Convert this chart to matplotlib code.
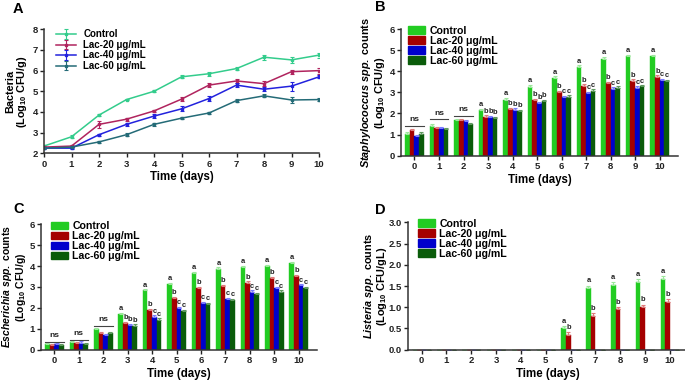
import numpy as np
import matplotlib
matplotlib.use("Agg")
import matplotlib.pyplot as plt
from matplotlib.patches import Patch
from matplotlib.ticker import FormatStrFormatter

plt.rcParams["font.family"] = ["Liberation Sans", "DejaVu Sans"]
plt.rcParams["font.weight"] = "bold"
plt.rcParams["mathtext.fontset"] = "custom"
plt.rcParams["mathtext.rm"] = "Liberation Sans:bold"
plt.rcParams["mathtext.it"] = "Liberation Sans:italic:bold"
plt.rcParams["mathtext.bf"] = "Liberation Sans:bold"

days = list(range(11))
groups = ["Control", "Lac-20 μg/mL", "Lac-40 μg/mL", "Lac-60 μg/mL"]

# --- panel A: total bacteria (line) ---
a_control = [2.35, 2.80, 3.85, 4.60, 5.00, 5.70, 5.85, 6.10, 6.65, 6.52, 6.75]
a_lac20 = [2.30, 2.35, 3.40, 3.65, 4.05, 4.62, 5.30, 5.50, 5.37, 5.95, 6.00]
a_lac40 = [2.25, 2.25, 2.90, 3.40, 3.80, 4.15, 4.65, 5.30, 5.10, 5.25, 5.70]
a_lac60 = [2.25, 2.30, 2.55, 2.90, 3.40, 3.70, 3.95, 4.55, 4.78, 4.58, 4.60]
a_err_control = [0.05, 0.08, 0.04, 0.04, 0.04, 0.08, 0.10, 0.08, 0.12, 0.15, 0.12]
a_err_lac20 = [0.05, 0.05, 0.18, 0.07, 0.05, 0.10, 0.08, 0.08, 0.12, 0.10, 0.15]
a_err_lac40 = [0.05, 0.05, 0.04, 0.07, 0.08, 0.12, 0.13, 0.10, 0.10, 0.22, 0.08]
a_err_lac60 = [0.05, 0.05, 0.04, 0.07, 0.07, 0.05, 0.04, 0.07, 0.07, 0.15, 0.08]

# --- panel B: Staphylococcus ---
b_control = [1.05, 1.42, 1.68, 2.15, 2.65, 3.27, 3.68, 4.20, 4.60, 4.70, 4.70]
b_lac20 = [1.20, 1.30, 1.70, 1.85, 2.20, 2.62, 3.02, 3.32, 3.45, 3.55, 3.75]
b_lac40 = [0.92, 1.32, 1.65, 1.83, 2.18, 2.50, 2.78, 2.98, 3.17, 3.22, 3.58]
b_lac60 = [1.05, 1.25, 1.50, 1.78, 2.12, 2.60, 2.80, 3.08, 3.22, 3.28, 3.52]
b_err = [0.08, 0.06, 0.06, 0.06]
b_letters = [None, None, None,
             "abbb", "abbb", "abbb", "abcc", "abcc", "abcc", "abcc", "abcc"]
b_ns = [1.42, 1.72, 1.89]

# --- panel C: Escherichia ---
c_control = [0.25, 0.35, 0.97, 1.72, 2.83, 3.15, 3.68, 3.88, 3.97, 4.02, 4.15]
c_lac20 = [0.20, 0.30, 0.78, 1.28, 1.88, 2.47, 2.93, 3.05, 3.20, 3.42, 3.52]
c_lac40 = [0.25, 0.33, 0.70, 1.17, 1.58, 2.00, 2.22, 2.43, 2.77, 2.93, 3.07]
c_lac60 = [0.22, 0.27, 0.80, 1.15, 1.43, 1.85, 2.17, 2.38, 2.65, 2.77, 2.95]
c_err = [0.05, 0.06, 0.06, 0.06]
c_letters = [None, None, None,
             "abbb", "abcc", "abcc", "abcc", "abcc", "abcc", "abcc", "abcc"]
c_ns = [0.36, 0.46, 1.14]

# --- panel D: Listeria ---
d_control = [0, 0, 0, 0, 0, 0, 0.50, 1.45, 1.53, 1.60, 1.67]
d_lac20 = [0, 0, 0, 0, 0, 0, 0.35, 0.80, 0.95, 1.00, 1.13]
d_lac40 = [0] * 11
d_lac60 = [0] * 11
d_err = [0.06, 0.06, 0.0, 0.0]
d_letters = [None] * 6 + ["ab"] * 5

line_colors = ["#33cc8c", "#b0245e", "#2222dd", "#246b77"]
bar_colors = ["#22cc22", "#a50000", "#0000cc", "#0a5c0a"]
err_colors = ["#9be89b", "#e07a7a", "#7a7aff", "#5f9a5f"]

W, H = 685, 380


def px_axes(fig, left, right, top, bottom):
    return fig.add_axes([left / W, 1 - bottom / H, (right - left) / W, (bottom - top) / H])


def style_axes(ax, ylabel, label_x, label_size=7.8):
    for s in ["top", "right"]:
        ax.spines[s].set_visible(False)
    for s in ["left", "bottom"]:
        ax.spines[s].set_linewidth(1.1)
        ax.spines[s].set_color("#333333")
    ax.tick_params(direction="out", length=3, width=1, labelsize=6.8, pad=1.5, colors="#222222")
    for t in ax.get_xticklabels() + ax.get_yticklabels():
        t.set_fontweight("bold")
    ax.set_xticks(days)
    ax.set_xlabel("Time (days)", fontsize=8.3, fontweight="bold", labelpad=2)
    ax.set_ylabel(ylabel, fontsize=label_size, fontweight="bold", linespacing=0.95)
    ax.yaxis.set_label_coords(label_x, 0.5)


def plot_bars(ax, series, err, letters, ns, ymax, ylabel, label_x, label_size=7.8):
    width = 0.19
    x = np.array(days)
    for i, vals in enumerate(series):
        xi = x + (i - 1.5) * width
        vals = np.array(vals)
        e = np.where(vals > 0, err[i], 0)
        ax.bar(xi, vals, width=width, color=bar_colors[i], edgecolor=bar_colors[i], linewidth=0.3)
        ax.errorbar(xi, vals, yerr=[np.zeros_like(vals), e], fmt="none",
                    ecolor=err_colors[i], elinewidth=0.8, capsize=1.2, capthick=0.8)
        for j, lab in enumerate(letters):
            if lab and i < len(lab):
                ax.text(xi[j], vals[j] + e[j] + 0.03, lab[i], ha="center", va="bottom",
                        fontsize=5.4, color="#222222")
    if ns:
        for j, h in enumerate(ns):
            ax.plot([j - 0.38, j + 0.38], [h, h], color="#444444", lw=0.8)
            ax.text(j, h + 0.02 * ymax, "ns", ha="center", va="bottom", fontsize=6, color="#222222")
    ax.set_xlim(-0.55, 10.75)
    ax.set_ylim(0, ymax)
    style_axes(ax, ylabel, label_x, label_size)
    return [Patch(color=c) for c in bar_colors]


def bar_legend(ax, handles, anchor):
    ax.legend(handles, groups, loc="upper left", bbox_to_anchor=anchor, frameon=False,
              fontsize=7.6, handlelength=1.65, handleheight=0.7, handletextpad=0.4,
              labelspacing=0.0, borderaxespad=0)


fig = plt.figure(figsize=(6.85, 3.8), dpi=100)

# A
ax = px_axes(fig, 44, 319, 29.3, 153.3)
for vals, errs, col, lab in zip([a_control, a_lac20, a_lac40, a_lac60],
                                [a_err_control, a_err_lac20, a_err_lac40, a_err_lac60],
                                line_colors, groups):
    ax.errorbar(days, vals, yerr=errs, color=col, lw=1.1, marker="s", ms=2,
                capsize=1.5, elinewidth=0.8, capthick=0.8, label=lab)
ax.set_xlim(0, 10)
ax.set_ylim(2, 8)
ax.set_yticks(range(2, 9))
style_axes(ax, "Bacteria\n(Log$_{10}$ CFU/g)", -0.055)
ax.legend(loc="upper left", bbox_to_anchor=(0.03, 1.03), frameon=False, fontsize=7,
          handlelength=2.0, handletextpad=0.8, labelspacing=0.05, borderaxespad=0)

# B
ax = px_axes(fig, 401, 678, 29, 155.7)
h = plot_bars(ax, [b_control, b_lac20, b_lac40, b_lac60], b_err, b_letters, b_ns, 6,
              "$\\it{Staphylococcus\\ spp.}$ counts\n(Log$_{10}$ CFU/g)", -0.052)
bar_legend(ax, h, (0.01, 1.06))

# C
ax = px_axes(fig, 41, 317, 224.3, 349.5)
h = plot_bars(ax, [c_control, c_lac20, c_lac40, c_lac60], c_err, c_letters, c_ns, 6,
              "$\\it{Escherichia\\ spp.}$ counts\n(Log$_{10}$ CFU/g)", -0.048, 7.5)
bar_legend(ax, h, (0.02, 1.06))

# D
ax = px_axes(fig, 408, 688.6, 222.3, 349.7)
h = plot_bars(ax, [d_control, d_lac20, d_lac40, d_lac60], d_err, d_letters, None, 3,
              "$\\it{Listeria\\ spp.}$ counts\n(Log$_{10}$ CFU/gL)", -0.066)
ax.set_yticks(np.arange(0, 3.01, 0.5))
ax.yaxis.set_major_formatter(FormatStrFormatter("%.1f"))
for t in ax.get_yticklabels():
    t.set_fontweight("bold")
bar_legend(ax, h, (0.02, 1.06))

for lab, x, y in [("A", 13, 2), ("B", 375, 0), ("C", 13, 202), ("D", 375, 203)]:
    fig.text(x / W, 1 - y / H, lab, fontsize=10.5, fontweight="bold", va="top", ha="left")

fig.savefig("out.png", dpi=100)
